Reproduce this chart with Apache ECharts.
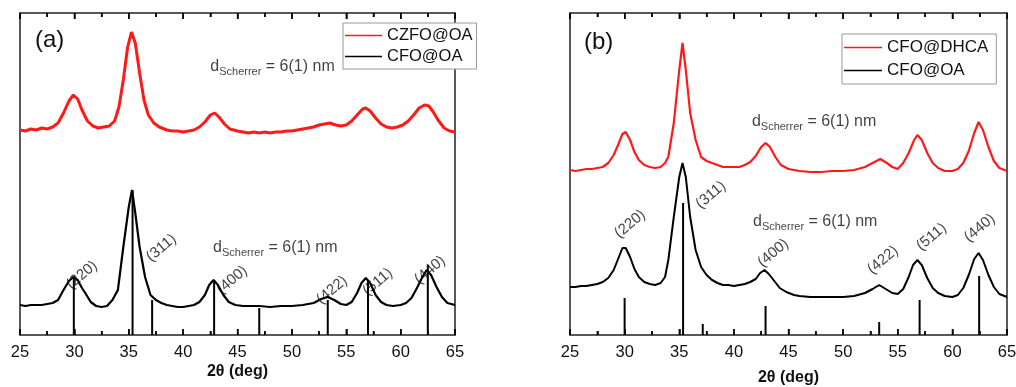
<!DOCTYPE html>
<html><head><meta charset="utf-8">
<script src="https://cdn.jsdelivr.net/npm/echarts@6/dist/echarts.min.js"></script>
<style>html,body{margin:0;padding:0;background:#fff}#c{width:1016px;height:387px}</style>
</head><body><div id="c"></div>
<script>
// ---- data (2theta in deg, intensity in arbitrary units, offset traces) ----
const xTicks = [25, 30, 35, 40, 45, 50, 55, 60, 65];
const xMinorTicks = [27.5, 32.5, 37.5, 42.5, 47.5, 52.5, 57.5, 62.5];
const namesA = ['CZFO@OA', 'CFO@OA'];
const namesB = ['CFO@DHCA', 'CFO@OA'];
const aRed = [[25,205],[25.5,204],[26,206],[26.5,205],[27,207],[27.5,206],[28,208],[28.5,212],[29,222],[29.5,234],[29.9,240],[30.3,236],[30.7,225],[31.2,214],[31.7,209],[32.2,207],[32.7,208],[33.2,209],[33.7,214],[34.1,228],[34.5,255],[34.9,288],[35.25,303],[35.6,292],[36,262],[36.4,235],[36.8,220],[37.3,212],[37.8,208],[38.5,205],[39,204],[39.5,204],[40,203],[40.5,204],[41,205],[41.5,208],[42,213],[42.5,220],[42.9,222],[43.3,218],[43.8,211],[44.3,206],[45,204],[45.5,203],[46,202],[46.5,203],[47,202],[47.5,203],[48,202],[48.5,203],[49,203],[49.5,204],[50,204],[50.5,205],[51,206],[51.5,207],[52,208],[52.5,210],[53,211],[53.5,212],[54,210],[54.5,209],[55,210],[55.5,214],[56,220],[56.5,226],[56.8,227],[57.2,224],[57.7,217],[58.2,211],[58.7,208],[59.2,207],[59.7,208],[60.2,210],[60.7,214],[61.2,220],[61.7,227],[62.2,230],[62.6,229],[63,223],[63.5,214],[64,207],[64.5,204],[65,203]];
const aBlack = [[25,30],[25.5,29],[26,30],[26.5,30],[27,30],[27.5,31],[28,32],[28.5,35],[29,45],[29.5,54],[29.9,58],[30.3,55],[30.7,47],[31,42],[31.5,33],[32,29],[32.5,28],[33,29],[33.5,35],[34,45],[34.5,88],[35,128],[35.3,145],[35.6,122],[36,88],[36.5,58],[37,40],[37.5,35],[38,32],[38.5,30],[39,29],[39.5,28],[40,28],[40.5,29],[41,30],[41.5,33],[42,40],[42.4,50],[42.8,55],[43.2,50],[43.7,40],[44.2,33],[44.8,30],[45.5,29],[46,29],[47,29],[48,28],[49,29],[50,29],[51,30],[52,32],[52.7,36],[53.3,38],[53.9,35],[54.5,31],[55,30],[55.5,33],[56,42],[56.4,52],[56.8,57],[57.2,52],[57.7,40],[58.2,33],[58.7,30],[59.3,29],[60,30],[60.5,32],[61,37],[61.5,47],[62,58],[62.4,65],[62.8,60],[63.3,48],[63.8,38],[64.3,32],[65,30]];
const aRef = [[29.95,58],[35.35,145],[37.15,35],[42.85,55],[47.0,27],[53.3,35],[57.0,55],[62.5,70]];
const bRed = [[25,165],[25.5,164],[26,165],[26.5,166],[27,166],[27.5,167],[28,168],[28.5,172],[29,180],[29.4,190],[29.8,201],[30.1,203],[30.5,195],[30.9,183],[31.3,175],[31.8,170],[32.3,168],[32.8,167],[33.3,168],[33.7,172],[34,178],[34.5,212],[35,265],[35.3,292],[35.6,265],[36,222],[36.5,195],[37,178],[37.5,174],[38,172],[38.5,170],[39,168],[39.5,168],[40,168],[40.5,168],[41,170],[41.5,173],[42,179],[42.5,188],[42.9,192],[43.3,188],[43.8,178],[44.3,170],[45,166],[45.5,165],[46,164],[47,163],[48,163],[49,164],[50,164],[51,165],[52,168],[52.7,172],[53.4,176],[54,172],[54.5,168],[55,166],[55.5,172],[56,182],[56.5,195],[56.8,200],[57.2,195],[57.7,182],[58.2,172],[58.7,167],[59.3,164],[60,164],[60.5,166],[61,172],[61.5,184],[62,202],[62.4,213],[62.8,205],[63.3,188],[63.8,174],[64.3,167],[65,164]];
const bBlack = [[25,48],[25.5,48],[26,49],[26.5,49],[27,50],[27.5,51],[28,53],[28.5,57],[29,65],[29.4,76],[29.8,87],[30.1,87],[30.5,78],[30.9,66],[31.3,58],[31.8,53],[32.3,51],[32.8,50],[33.3,52],[33.7,58],[34,75],[34.5,118],[35,158],[35.3,172],[35.6,158],[36,118],[36.5,85],[37,68],[37.5,60],[38,55],[38.5,52],[39,50],[39.5,50],[40,49],[40.5,50],[41,51],[41.5,53],[42,56],[42.4,62],[42.8,65],[43.2,61],[43.7,54],[44.2,47],[44.8,43],[45.5,40],[46,39],[47,38],[48,38],[49,38],[50,38],[51,39],[52,42],[52.7,46],[53.3,50],[53.9,46],[54.5,42],[55,41],[55.5,46],[56,58],[56.4,70],[56.8,75],[57.2,70],[57.7,57],[58.2,47],[58.7,42],[59.3,39],[60,38],[60.5,40],[61,47],[61.5,60],[62,76],[62.4,82],[62.8,75],[63.3,60],[63.8,48],[64.3,41],[65,38]];
const bRef = [[30.0,37],[35.35,132],[37.15,11],[42.9,29],[53.3,13],[57.0,35],[62.45,59]];
const hkl = ['(220)','(311)','(400)','(422)','(511)','(440)'];
const hklAnchorA = [[30.7,60],[38.0,87],[44.5,55],[53.7,45],[57.9,53],[62.7,65]];
const hklAnchorB = [[30.5,111],[37.9,140],[43.6,82],[53.65,75],[58.1,98],[62.5,107]];
const scherrerText = '{d|d}{s|Scherrer}{d| = 6(1) nm}';
const scherrerA = [[42.5,268],[42.75,87]];
const scherrerB = [[41.65,213],[41.75,113]];

// ---- chart ----
const FONT = 'Liberation Sans, Arial, sans-serif';
const FRAME = '#222';
const Y_MAX = 322;
const chart = echarts.init(document.getElementById('c'), null, {renderer: 'canvas'});
const grids = [
  {left: 20, right: 561, top: 13, bottom: 52, outerBoundsMode: 'none', containLabel: false},
  {left: 570, right: 9, top: 13, bottom: 52, outerBoundsMode: 'none', containLabel: false}
];
function xAxes(gi, gap) {
  const base = {
    type: 'value', gridIndex: gi, min: 25, max: 65, interval: 5,
    axisLine: {show: true, onZero: false, lineStyle: {color: FRAME, width: 1.5}}, splitLine: {show: false},
    axisTick: {show: true, inside: true, length: 6, lineStyle: {color: '#000', width: 1.5}},
    minorTick: {show: true, splitNumber: 2, length: 4, lineStyle: {color: '#000', width: 1.5}},
  };
  return [
    Object.assign({}, base, {
      position: 'bottom',
      axisLabel: {color: '#111', fontSize: 16.5, fontFamily: FONT, margin: 9,
        formatter: v => xTicks.includes(v) ? String(v) : ''},
      name: '2θ (deg)', nameLocation: 'middle', nameGap: gap, nameMoveOverlap: false,
      nameTextStyle: {fontSize: 16, fontWeight: 'bold', color: '#111', fontFamily: FONT, verticalAlign: 'middle'}
    }),
    Object.assign({}, base, {position: 'top', axisLabel: {show: false}})
  ];
}
const yAxes = [0, 1].flatMap(gi => [
  {type: 'value', gridIndex: gi, min: 0, max: Y_MAX, position: 'left',
   axisLine: {show: true, onZero: false, lineStyle: {color: FRAME, width: 1.5}}, axisTick: {show: false}, axisLabel: {show: false}, splitLine: {show: false}},
  {type: 'value', gridIndex: gi, min: 0, max: Y_MAX, position: 'right',
   axisLine: {show: true, onZero: false, lineStyle: {color: FRAME, width: 1.5}}, axisTick: {show: false}, axisLabel: {show: false}, splitLine: {show: false}}
]);

function line(name, data, color, xi, yi, w) {
  return {type: 'line', name, data, xAxisIndex: xi, yAxisIndex: yi, showSymbol: false, symbol: 'none',
    lineStyle: {color, width: w}, itemStyle: {color}, animation: false, z: 3};
}
function refBars(data, xi, yi) {
  return {type: 'bar', data, xAxisIndex: xi, yAxisIndex: yi, barWidth: 2,
    itemStyle: {color: '#000'}, animation: false, z: 4, silent: true};
}
function hklLabels(anchors, xi, yi) {
  return {type: 'scatter', xAxisIndex: xi, yAxisIndex: yi, symbolSize: 0, animation: false, silent: true, z: 5,
    data: anchors.map((p, i) => ({value: p, name: hkl[i]})),
    label: {show: true, position: 'inside', rotate: 40, formatter: '{b}', color: '#111', fontSize: 15, fontFamily: FONT}};
}
function scherrer(anchors, xi, yi) {
  return {type: 'scatter', xAxisIndex: xi, yAxisIndex: yi, symbolSize: 0, animation: false, silent: true, z: 5,
    data: anchors,
    label: {show: true, position: 'right', distance: 0, formatter: scherrerText,
      rich: {
        d: {fontSize: 16, color: '#111', fontFamily: FONT, lineHeight: 20, verticalAlign: 'middle'},
        s: {fontSize: 11, color: '#111', fontFamily: FONT, lineHeight: 20, padding: [9, 0, 0, 0], verticalAlign: 'middle'}
      }}};
}
// frame ticks (top and bottom, pointing inward), placed through the axis scale
function frameTicks(xi, yi) {
  const data = xTicks.map(v => [v, 6]).concat(xMinorTicks.map(v => [v, 4]));
  return {type: 'custom', xAxisIndex: xi, yAxisIndex: yi, silent: true, animation: false, z: 6, clip: false,
    data,
    renderItem: (params, api) => {
      const x = api.value(0), len = api.value(1);
      const b = api.coord([x, 0]), t = api.coord([x, Y_MAX]);
      const style = {stroke: '#000', lineWidth: 1.3};
      return {type: 'group', children: [
        {type: 'line', shape: {x1: b[0], y1: b[1], x2: b[0], y2: b[1] - len}, style},
        {type: 'line', shape: {x1: t[0], y1: t[1], x2: t[0], y2: t[1] + len}, style}
      ]};
    }};
}

chart.setOption({
  animation: false,
  backgroundColor: '#fff',
  grid: grids,
  xAxis: [...xAxes(0, 37), ...xAxes(1, 43)],
  yAxis: yAxes,
  legend: [
    {data: namesA, orient: 'vertical', left: 343, top: 23, icon: 'rect', itemWidth: 37, itemHeight: 1.5,
     itemGap: 4, padding: [4, 4, 4, 2], borderColor: '#999', borderWidth: 1, backgroundColor: '#fff',
     textStyle: {fontSize: 16.5, color: '#111', fontFamily: FONT}},
    {data: namesB, orient: 'vertical', left: 842, top: 34, icon: 'rect', itemWidth: 38, itemHeight: 1.5,
     itemGap: 6, padding: [5, 8, 5, 2], borderColor: '#999', borderWidth: 1, backgroundColor: '#fff',
     textStyle: {fontSize: 17, color: '#111', fontFamily: FONT}}
  ],
  graphic: [
    {type: 'text', left: 35, top: 28, style: {text: '(a)', fill: '#111', font: '24px ' + FONT}},
    {type: 'text', left: 584, top: 30, style: {text: '(b)', fill: '#111', font: '24px ' + FONT}}
  ],
  series: [
    line(namesA[0], aRed, '#ff1a1a', 0, 0, 3),
    line(namesA[1], aBlack, '#000', 0, 0, 2.2),
    refBars(aRef, 0, 0),
    hklLabels(hklAnchorA, 0, 0),
    scherrer(scherrerA, 0, 0),
    frameTicks(0, 0),
    line(namesB[0], bRed, '#ff1a1a', 2, 2, 2.2),
    line(namesB[1], bBlack, '#000', 2, 2, 2),
    refBars(bRef, 2, 2),
    hklLabels(hklAnchorB, 2, 2),
    scherrer(scherrerB, 2, 2),
    frameTicks(2, 2)
  ]
});
</script></body></html>
